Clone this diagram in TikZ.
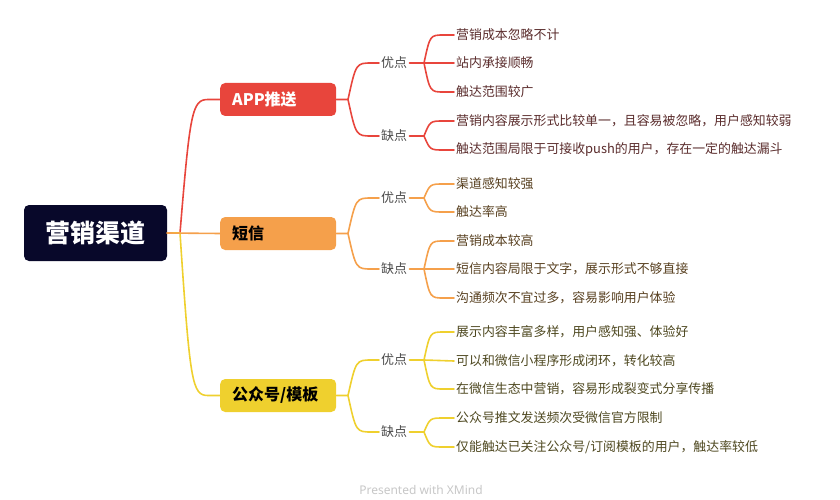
\documentclass[tikz,border=0pt]{standalone}
\usepackage{fontspec}
\setmainfont{Noto Sans CJK SC}
\newfontfamily\footfont{Noto Sans}
\usetikzlibrary{positioning}

\definecolor{rootnavy}{HTML}{08082A}
\definecolor{appred}{HTML}{E8453C}
\definecolor{smsorange}{HTML}{F5A04B}
\definecolor{wxyellow}{HTML}{EFD02E}
\definecolor{apptext}{HTML}{5A2C2C}
\definecolor{smstext}{HTML}{584020}
\definecolor{wxtext}{HTML}{4E4820}
\definecolor{tagtext}{HTML}{4A4A4A}

\tikzset{
  rootbox/.style={fill=rootnavy,rounded corners=5pt,text=white,minimum width=143pt,minimum height=56pt,font=\fontsize{25}{30}\selectfont\bfseries},
  topicbox/.style={rounded corners=5pt,anchor=west,minimum width=116pt,minimum height=33pt,inner xsep=12pt,text width=92pt,align=left,font=\fontsize{16}{19}\selectfont\bfseries},
  tag/.style={anchor=west,inner sep=2pt,text=tagtext,font=\fontsize{13}{15}\selectfont},
  leaf/.style={anchor=west,inner sep=2pt,font=\fontsize{12.9}{15}\selectfont},
  link/.style={line width=1.6pt,line cap=round}
}

\begin{document}
\begin{tikzpicture}[x=1pt,y=-1pt]
  \useasboundingbox (0,0) rectangle (840,500);

  % root
  \node[rootbox] (root) at (95.5,233) {营销渠道};
  \coordinate (rj) at (180,233);

  % topics
  \node[topicbox,fill=appred,text=white] (app) at (220,99.5) {APP推送};
  \node[topicbox,fill=smsorange,text=black] (sms) at (220,233.5) {短信};
  \node[topicbox,fill=wxyellow,text=black] (wx) at (220,395.5) {公众号/模板};

  % APP推送
  \node[tag] (apppro) at (379,63) {优点};
  \node[tag] (appcon) at (379,136) {缺点};
  \node[leaf,text=apptext] (app1) at (454,35) {营销成本忽略不计};
  \node[leaf,text=apptext] (app2) at (454,63) {站内承接顺畅};
  \node[leaf,text=apptext] (app3) at (454,92) {触达范围较广};
  \node[leaf,text=apptext] (app4) at (454,121) {营销内容展示形式比较单一，且容易被忽略，用户感知较弱};
  \node[leaf,text=apptext] (app5) at (454,150) {触达范围局限于可接收push的用户，存在一定的触达漏斗};

  % 短信
  \node[tag] (smspro) at (379,198) {优点};
  \node[tag] (smscon) at (379,269) {缺点};
  \node[leaf,text=smstext] (sms1) at (454,184) {渠道感知较强};
  \node[leaf,text=smstext] (sms2) at (454,212) {触达率高};
  \node[leaf,text=smstext] (sms3) at (454,241) {营销成本较高};
  \node[leaf,text=smstext] (sms4) at (454,269) {短信内容局限于文字，展示形式不够直接};
  \node[leaf,text=smstext] (sms5) at (454,298) {沟通频次不宜过多，容易影响用户体验};

  % 公众号/模板
  \node[tag] (wxpro) at (379,360) {优点};
  \node[tag] (wxcon) at (379,432) {缺点};
  \node[leaf,text=wxtext] (wx1) at (454,332) {展示内容丰富多样，用户感知强、体验好};
  \node[leaf,text=wxtext] (wx2) at (454,361) {可以和微信小程序形成闭环，转化较高};
  \node[leaf,text=wxtext] (wx3) at (454,389) {在微信生态中营销，容易形成裂变式分享传播};
  \node[leaf,text=wxtext] (wx4) at (454,418) {公众号推文发送频次受微信官方限制};
  \node[leaf,text=wxtext] (wx5) at (454,447) {仅能触达已关注公众号/订阅模板的用户，触达率较低};

  % junctions
  \coordinate (appj) at (348,99.5);
  \coordinate (smsj) at (348,233.5);
  \coordinate (wxj) at (348,395.5);
  \coordinate (appproj) at (424,63);
  \coordinate (appconj) at (424,136);
  \coordinate (smsproj) at (424,198);
  \coordinate (smsconj) at (424,269);
  \coordinate (wxproj) at (424,360);
  \coordinate (wxconj) at (424,432);

  % root to topics
  \draw[link,appred] (root.east) -- (rj) .. controls (190,112) and (192,99.5) .. (208,99.5) -- (app.west);
  \draw[link,wxyellow] (root.east) -- (rj) .. controls (190,383) and (192,395.5) .. (208,395.5) -- (wx.west);
  \draw[link,smsorange] (root.east) -- (sms.west);

  % topics to tags
  \draw[link,appred] (app.east) -- (appj) .. controls (356,63) .. (372,63) -- (apppro.west);
  \draw[link,appred] (appj) .. controls (356,136) .. (372,136) -- (appcon.west);
  \draw[link,smsorange] (sms.east) -- (smsj) .. controls (356,198) .. (372,198) -- (smspro.west);
  \draw[link,smsorange] (smsj) .. controls (356,269) .. (372,269) -- (smscon.west);
  \draw[link,wxyellow] (wx.east) -- (wxj) .. controls (356,360) .. (372,360) -- (wxpro.west);
  \draw[link,wxyellow] (wxj) .. controls (356,432) .. (372,432) -- (wxcon.west);

  % tags to leaves
  \draw[link,appred] (apppro.east) -- (appproj) .. controls (430,35) .. (444,35) -- (app1.west);
  \draw[link,appred] (appproj) -- (app2.west);
  \draw[link,appred] (appproj) .. controls (430,92) .. (444,92) -- (app3.west);
  \draw[link,appred] (appcon.east) -- (appconj) .. controls (430,121) .. (444,121) -- (app4.west);
  \draw[link,appred] (appconj) .. controls (430,150) .. (444,150) -- (app5.west);
  \draw[link,smsorange] (smspro.east) -- (smsproj) .. controls (430,184) .. (444,184) -- (sms1.west);
  \draw[link,smsorange] (smsproj) .. controls (430,212) .. (444,212) -- (sms2.west);
  \draw[link,smsorange] (smscon.east) -- (smsconj) .. controls (430,241) .. (444,241) -- (sms3.west);
  \draw[link,smsorange] (smsconj) -- (sms4.west);
  \draw[link,smsorange] (smsconj) .. controls (430,298) .. (444,298) -- (sms5.west);
  \draw[link,wxyellow] (wxpro.east) -- (wxproj) .. controls (430,332) .. (444,332) -- (wx1.west);
  \draw[link,wxyellow] (wxproj) -- (wx2.west);
  \draw[link,wxyellow] (wxproj) .. controls (430,389) .. (444,389) -- (wx3.west);
  \draw[link,wxyellow] (wxcon.east) -- (wxconj) .. controls (430,418) .. (444,418) -- (wx4.west);
  \draw[link,wxyellow] (wxconj) .. controls (430,447) .. (444,447) -- (wx5.west);

  % footer
  \node[text=black!22,font=\footfont\fontsize{12}{14}\selectfont] (foot) at (421,490) {Presented with XMind};
\end{tikzpicture}
\end{document}
